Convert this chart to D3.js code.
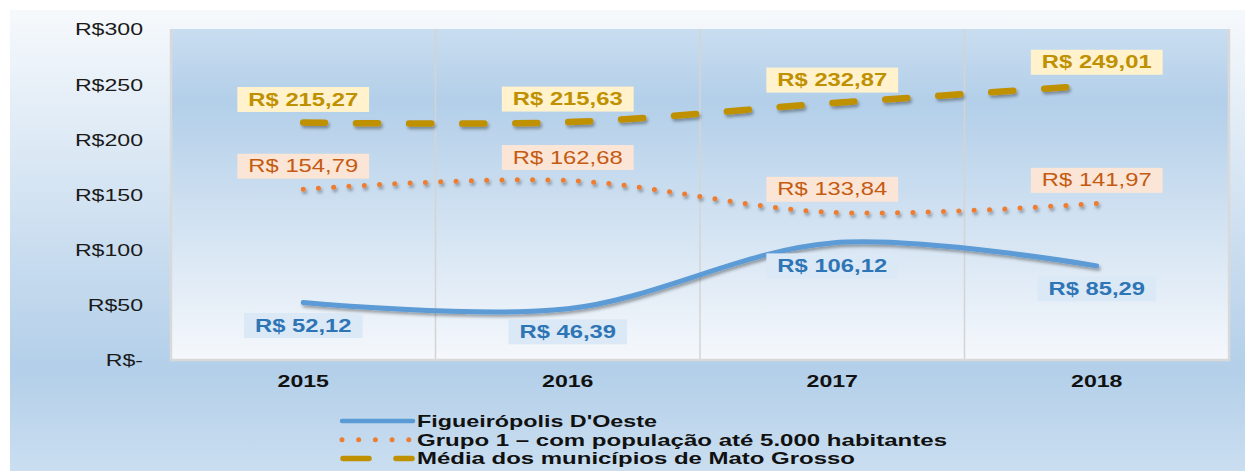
<!DOCTYPE html>
<html>
<head>
<meta charset="utf-8">
<script src="https://cdn.jsdelivr.net/npm/d3@7"></script>
<style>
  body { margin: 0; background: #fff; }
  svg { display: block; font-family: "Liberation Sans", Arial, sans-serif; }
</style>
</head>
<body>
<svg id="chart" width="1245" height="471"></svg>
<script>
// data
const years = ["2015", "2016", "2017", "2018"];
const figueiropolis = [52.12, 46.39, 106.12, 85.29];
const grupo1 = [154.79, 162.68, 133.84, 141.97];
const mediaMT = [215.27, 215.63, 232.87, 249.01];
const yTicks = [0, 50, 100, 150, 200, 250, 300];
const seriesNames = [
  "Figueirópolis D'Oeste",
  "Grupo 1 – com população até 5.000 habitantes",
  "Média dos municípios de Mato Grosso"
];

const ptBR = d3.formatLocale({ decimal: ",", thousands: ".", grouping: [3], currency: ["R$ ", ""] });
const fmtVal = ptBR.format("$,.2f");
const fmtTick = d => d === 0 ? "R$-" : "R$" + d;

const svg = d3.select("#chart");
const W = 1245, H = 471;
const plot = { left: 171, right: 1229, top: 29, bottom: 360 };
const SX = 1.36; // the reference text is stretched sideways

const defs = svg.append("defs");
const outerGrad = defs.append("linearGradient").attr("id", "outerGrad")
  .attr("x1", 0).attr("y1", 0).attr("x2", 0).attr("y2", 1);
outerGrad.append("stop").attr("offset", "0%").attr("stop-color", "#f6f9fc");
outerGrad.append("stop").attr("offset", "78%").attr("stop-color", "#b3cfe9");
outerGrad.append("stop").attr("offset", "100%").attr("stop-color", "#cadef0");

const plotGrad = defs.append("linearGradient").attr("id", "plotGrad")
  .attr("x1", 0).attr("y1", 0).attr("x2", 0).attr("y2", 1);
plotGrad.append("stop").attr("offset", "0%").attr("stop-color", "#c9ddf0");
plotGrad.append("stop").attr("offset", "22%").attr("stop-color", "#b3cfe9");
plotGrad.append("stop").attr("offset", "100%").attr("stop-color", "#f5f8fc");

const shadow = defs.append("filter").attr("id", "shadow")
  .attr("x", "-5%").attr("y", "-50%").attr("width", "110%").attr("height", "200%");
shadow.append("feDropShadow").attr("dx", 1.5).attr("dy", 2.5)
  .attr("stdDeviation", 1.5).attr("flood-color", "#000").attr("flood-opacity", 0.35);

// backgrounds
svg.append("rect").attr("x", 10).attr("y", 10).attr("width", W - 10).attr("height", H - 10)
  .attr("fill", "url(#outerGrad)");
svg.append("rect").attr("x", plot.left).attr("y", plot.top)
  .attr("width", plot.right - plot.left).attr("height", plot.bottom - plot.top)
  .attr("fill", "url(#plotGrad)");

// scales
const x = d3.scaleBand().domain(years).range([plot.left, plot.right]);
const y = d3.scaleLinear().domain([0, 300]).range([plot.bottom, plot.top]);
const cx = d => x(d) + x.bandwidth() / 2;

// vertical gridlines between categories
svg.append("g").selectAll("line")
  .data(years.slice(1))
  .join("line")
  .attr("x1", d => x(d)).attr("x2", d => x(d))
  .attr("y1", plot.top).attr("y2", plot.bottom)
  .attr("stroke", "#d4d4d4").attr("stroke-width", 1.5);

// plot border (left, right, bottom)
svg.append("path")
  .attr("d", `M${plot.left},${plot.top}V${plot.bottom}H${plot.right}V${plot.top}`)
  .attr("fill", "none").attr("stroke", "#d9d9d9").attr("stroke-width", 2.5);

// y axis labels
const yAxis = svg.append("g").attr("transform", "translate(143,0)")
  .call(d3.axisLeft(y).tickValues(yTicks).tickFormat(fmtTick).tickSize(0).tickPadding(0));
yAxis.select(".domain").remove();
yAxis.selectAll("text")
  .attr("x", 0).attr("dy", "0.35em")
  .attr("transform", `scale(${SX},1)`)
  .style("font-size", "17px").style("fill", "#1a1a1a")
  .style("font-family", "'Liberation Sans', Arial, sans-serif");

// x axis labels
const xAxis = svg.append("g").attr("transform", `translate(0,${plot.bottom})`)
  .call(d3.axisBottom(x).tickSize(0).tickPadding(0));
xAxis.select(".domain").remove();
xAxis.selectAll(".tick text")
  .attr("y", 0).attr("dy", "0.35em")
  .attr("transform", `translate(0,21) scale(${SX},1)`)
  .style("font-size", "17px").style("font-weight", "bold").style("fill", "#111")
  .style("font-family", "'Liberation Sans', Arial, sans-serif");

// series
const series = [
  { name: seriesNames[0], values: figueiropolis, color: "#5b9bd5", width: 5, dash: null,
    labelText: "#2e75b6", labelBg: "#dbe8f5", labelWeight: "bold", labelDy: 23 },
  { name: seriesNames[1], values: grupo1, color: "#ed7d31", width: 5, dash: "0 15.3",
    labelText: "#c55a11", labelBg: "#fbe5d6", labelWeight: "normal", labelDy: -23 },
  { name: seriesNames[2], values: mediaMT, color: "#bf9000", width: 6.5, dash: "22 31",
    labelText: "#bf9000", labelBg: "#fff2cc", labelWeight: "bold", labelDy: -23 }
];

const line = d3.line()
  .x((d, i) => cx(years[i]))
  .y(d => y(d))
  .curve(d3.curveCatmullRom.alpha(0.5));

const lines = svg.append("g");
series.slice().reverse().forEach(s => {
  lines.append("path")
    .datum(s.values)
    .attr("d", line)
    .attr("fill", "none")
    .attr("stroke", s.color)
    .attr("stroke-width", s.width)
    .attr("stroke-linecap", "round")
    .attr("stroke-dasharray", s.dash)
    .attr("filter", "url(#shadow)");
});

// data labels
const labels = svg.append("g");
series.forEach(s => {
  s.values.forEach((v, i) => {
    const g = labels.append("g")
      .attr("transform", `translate(${cx(years[i])},${y(v) + s.labelDy})`);
    const bg = g.append("rect").attr("fill", s.labelBg);
    const t = g.append("text")
      .attr("text-anchor", "middle").attr("dy", "0.35em")
      .attr("transform", `scale(${SX},1)`)
      .style("font-size", "17.5px").style("font-weight", s.labelWeight)
      .style("fill", s.labelText)
      .text(fmtVal(v));
    const w = t.node().getComputedTextLength() * SX + 22;
    bg.attr("x", -w / 2).attr("y", -12.5).attr("width", w).attr("height", 25);
  });
});

// legend
const legend = svg.append("g").attr("transform", "translate(340,421)");
series.forEach((s, i) => {
  const row = legend.append("g").attr("transform", `translate(0,${i * 18.7})`);
  if (i === 2) {
    row.append("line").attr("x1", 3).attr("x2", 29).attr("stroke", s.color)
      .attr("stroke-width", 5.5).attr("stroke-linecap", "round");
    row.append("line").attr("x1", 56).attr("x2", 72).attr("stroke", s.color)
      .attr("stroke-width", 5.5).attr("stroke-linecap", "round");
  } else if (i === 1) {
    row.append("line").attr("x1", 2).attr("x2", 70).attr("stroke", s.color)
      .attr("stroke-width", 5).attr("stroke-linecap", "round")
      .attr("stroke-dasharray", "0 16.7");
  } else {
    row.append("line").attr("x1", 2).attr("x2", 73).attr("stroke", s.color)
      .attr("stroke-width", 4.5).attr("stroke-linecap", "round");
  }
  row.append("text").attr("x", 77).attr("dy", "0.35em")
    .style("font-size", "17px").style("font-weight", "bold").style("fill", "#111")
    .attr("textLength", [240, 530, 438][i]).attr("lengthAdjust", "spacingAndGlyphs")
    .text(s.name);
});
</script>
</body>
</html>
